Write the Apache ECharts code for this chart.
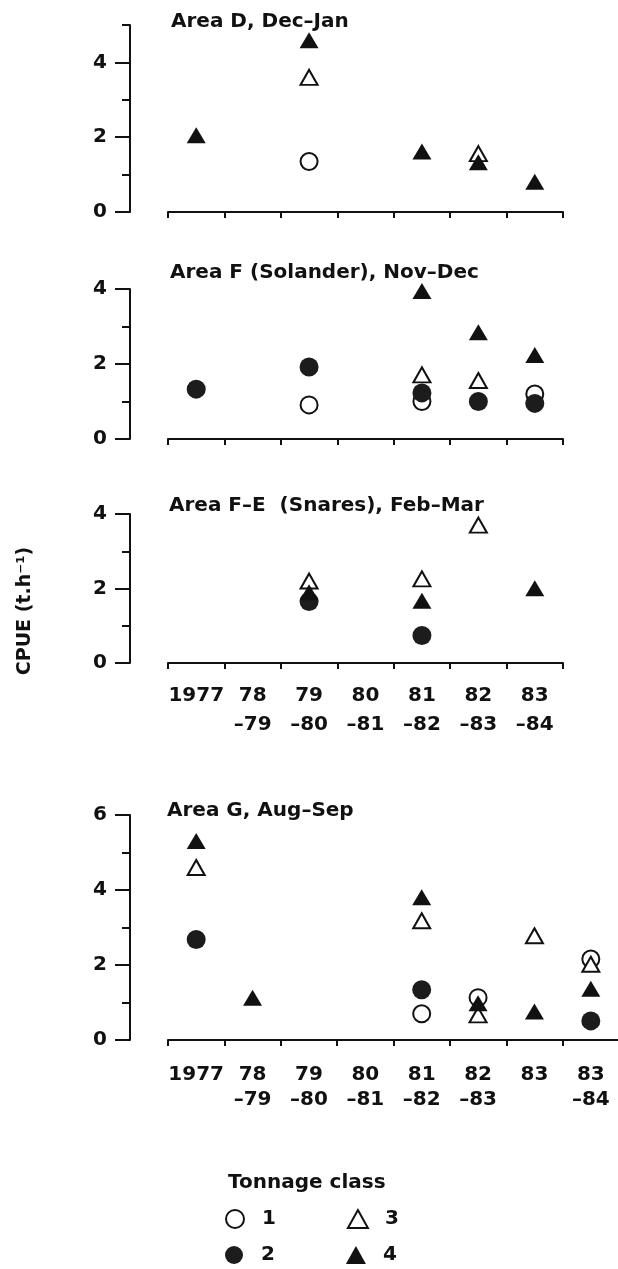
<!DOCTYPE html>
<html>
<head>
<meta charset="utf-8">
<script src="https://cdn.jsdelivr.net/npm/echarts@6/dist/echarts.min.js"></script>
<style>
  html, body { margin: 0; padding: 0; background: #fff; }
  #chart { width: 618px; height: 1269px; }
</style>
</head>
<body>
<div id="chart"></div>
<script>
// x categories (fishing seasons)
const seasons = ['1977', '78-79', '79-80', '80-81', '81-82', '82-83', '83-84']
const seasonLabels = ['1977', '78\n–79', '79\n–80', '80\n–81', '81\n–82', '82\n–83', '83\n–84']
const seasonsG = ['1977', '78-79', '79-80', '80-81', '81-82', '82-83', '83', '83-84']
const seasonLabelsG = ['1977', '78\n–79', '79\n–80', '80\n–81', '81\n–82', '82\n–83', '83', '83\n–84']

const panelTitles = ['Area D, Dec–Jan', 'Area F (Solander), Nov–Dec', 'Area F–E  (Snares), Feb–Mar', 'Area G, Aug–Sep']
const yMax = [5, 4, 4, 6]
const yLabelValues = [[0, 2, 4], [0, 2, 4], [0, 2, 4], [0, 2, 4, 6]]
const tonnageClasses = ['1', '2', '3', '4']

// CPUE (t/h) by tonnage class, Area D
const areaD1 = [null, null, 1.35, null, null, null, null]
const areaD2 = [null, null, null, null, null, null, null]
const areaD3 = [null, null, 3.6, null, null, 1.56, null]
const areaD4 = [2.05, null, 4.59, null, 1.62, 1.33, 0.81]

// Area F (Solander)
const areaF1 = [null, null, 0.91, null, 1.0, null, 1.2]
const areaF2 = [1.33, null, 1.92, null, 1.23, 1.0, 0.95]
const areaF3 = [null, null, null, null, 1.71, 1.56, null]
const areaF4 = [null, null, null, null, 3.95, 2.85, 2.24]

// Area F-E (Snares)
const areaFE1 = [null, null, null, null, null, null, null]
const areaFE2 = [null, null, 1.65, null, 0.74, null, null]
const areaFE3 = [null, null, 2.2, null, 2.26, 3.7, null]
const areaFE4 = [null, null, 1.9, null, 1.67, null, 2.01]

// Area G
const areaG1 = [null, null, null, null, 0.7, 1.13, null, 2.16]
const areaG2 = [2.68, null, null, null, 1.34, null, null, 0.51]
const areaG3 = [4.6, null, null, null, 3.18, 0.67, 2.78, 2.02]
const areaG4 = [5.31, 1.13, null, null, 3.81, 0.98, 0.76, 1.37]

const panelData = [
  [areaD1, areaD2, areaD3, areaD4],
  [areaF1, areaF2, areaF3, areaF4],
  [areaFE1, areaFE2, areaFE3, areaFE4],
  [areaG1, areaG2, areaG3, areaG4]
]

const ink = '#111'
const font = 'DejaVu Sans'

const grids = [
  { left: 168, top: 25, width: 395, height: 187, outerBoundsMode: 'none' },
  { left: 168, top: 289, width: 395, height: 150, outerBoundsMode: 'none' },
  { left: 168, top: 514, width: 395, height: 149, outerBoundsMode: 'none' },
  { left: 168, top: 815, width: 451, height: 225, outerBoundsMode: 'none' }
]
const xOffsets = [3, 1, 4, 3]
const titleTops = [12, 263, 496, 801]
const titleLefts = [171, 170, 169, 167]

const symbols = [
  { symbol: 'circle', symbolSize: 17, itemStyle: { color: '#fff', borderColor: ink, borderWidth: 2, opacity: 1 } },
  { symbol: 'circle', symbolSize: 19, itemStyle: { color: '#1c1c1c', borderColor: ink, borderWidth: 0, opacity: 1 } },
  { symbol: 'triangle', symbolSize: [17, 15], itemStyle: { color: '#fff', borderColor: ink, borderWidth: 2, opacity: 1 } },
  { symbol: 'triangle', symbolSize: [19, 16], itemStyle: { color: ink, borderColor: ink, borderWidth: 0, opacity: 1 } }
]

const xAxes = []
const yAxes = []
const series = []
const titles = []

grids.forEach((g, i) => {
  const isG = i === 3
  const cats = isG ? seasonsG : seasons
  const labels = isG ? seasonLabelsG : seasonLabels
  xAxes.push({
    type: 'category',
    gridIndex: i,
    position: 'bottom',
    data: cats,
    boundaryGap: true,
    offset: xOffsets[i],
    axisLine: { show: true, lineStyle: { color: ink, width: 2 } },
    axisTick: { show: true, length: 6, lineStyle: { color: ink, width: 2 } },
    axisLabel: {
      show: i >= 2,
      interval: 0,
      margin: isG ? 19 : 14,
      color: ink,
      fontFamily: font,
      fontWeight: 'bold',
      fontSize: 20,
      lineHeight: isG ? 25 : 29,
      formatter: (v, idx) => labels[idx]
    },
    splitLine: { show: false }
  })
  // unit ticks, carries the axis line
  yAxes.push({
    type: 'value',
    gridIndex: i,
    position: 'left',
    min: 0,
    max: yMax[i],
    interval: 1,
    offset: 38,
    axisLine: { show: true, lineStyle: { color: ink, width: 2 } },
    axisTick: { show: true, length: 8, lineStyle: { color: ink, width: 2 } },
    axisLabel: { show: false },
    splitLine: { show: false }
  })
  // labelled ticks
  yAxes.push({
    type: 'value',
    gridIndex: i,
    position: 'left',
    min: 0,
    max: yMax[i],
    interval: 2,
    offset: 38,
    axisLine: { show: false },
    axisTick: { show: true, length: 15, customValues: yLabelValues[i], lineStyle: { color: ink, width: 2 } },
    axisLabel: {
      customValues: yLabelValues[i],
      margin: 23,
      color: ink,
      fontFamily: font,
      fontWeight: 'bold',
      fontSize: 20
    },
    splitLine: { show: false }
  })
  titles.push({
    text: panelTitles[i],
    left: titleLefts[i],
    top: titleTops[i],
    padding: 0,
    textStyle: { color: ink, fontFamily: font, fontWeight: 'bold', fontSize: 20 }
  })
  panelData[i].forEach((values, k) => {
    series.push(Object.assign({
      name: tonnageClasses[k],
      type: 'scatter',
      xAxisIndex: i,
      yAxisIndex: i * 2,
      data: values,
      z: 2 + k,
      emphasis: { disabled: true }
    }, symbols[k]))
  })
})

titles.push({
  text: 'Tonnage class',
  left: 228,
  top: 1173,
  padding: 0,
  textStyle: { color: ink, fontFamily: font, fontWeight: 'bold', fontSize: 20 }
})

const legendBase = {
  orient: 'horizontal',
  left: 225,
  padding: 0,
  itemWidth: 20,
  itemHeight: 18,
  itemGap: 71,
  selectedMode: false,
  itemStyle: { borderWidth: 'inherit' },
  textStyle: { color: ink, fontFamily: font, fontWeight: 'bold', fontSize: 20, lineHeight: 22, padding: [0, 0, 0, 12] }
}

const option = {
  animation: false,
  backgroundColor: '#fff',
  title: titles,
  grid: grids,
  xAxis: xAxes,
  yAxis: yAxes,
  legend: [
    Object.assign({}, legendBase, { top: 1208, data: ['1', '3'] }),
    Object.assign({}, legendBase, { top: 1244, data: ['2', '4'] })
  ],
  graphic: [{
    type: 'text',
    x: 25,
    y: 611,
    rotation: Math.PI / 2,
    style: {
      text: 'CPUE (t.h⁻¹)',
      fill: ink,
      font: 'bold 19px "DejaVu Sans"',
      align: 'center',
      verticalAlign: 'middle'
    }
  }],
  series: series
}

const chart = echarts.init(document.getElementById('chart'))
chart.setOption(option)
</script>
</body>
</html>
